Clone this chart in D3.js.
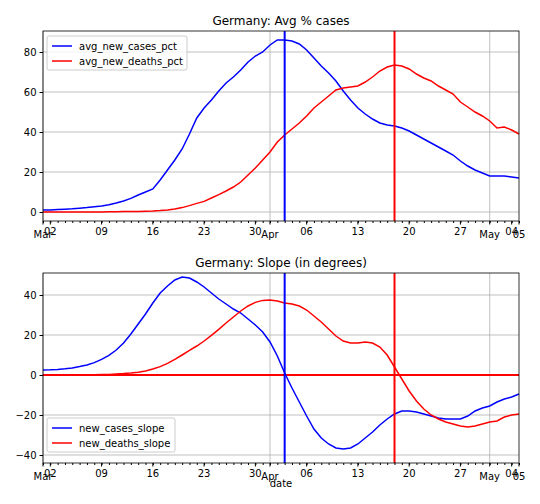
<!DOCTYPE html>
<html>
<head>
<meta charset="utf-8">
<style>
  body { margin: 0; background: #fff; }
  text { font-family: "DejaVu Sans", sans-serif; }
</style>
</head>
<body>
<script src="https://d3js.org/d3.v7.min.js"></script>
<script>
// daily values, Mar 1 .. May 5 2020
const startDate = new Date(2020, 2, 1);
const endDate = new Date(2020, 4, 5);
const avgNewCasesPct = [
  1,1,1.2,1.4,1.6,1.9,2.2,2.6,3,3.6,4.5,5.5,6.8,8.5,10,11.5,16,21,26,31.5,39,47,52,56,60.5,64.5,67.5,71,75,78,80,
  83.5,86,86,85.5,84,81,77,73,69.5,65.5,60.5,56,52,49,46.5,44.5,43.5,43,42,40.5,38.5,36.5,34.5,32.5,30.5,28.5,25.5,23,21,19.5,
  18,18,18,17.5,17];
const avgNewDeathsPct = [
  0,0,0,0,0,0,0,0,0,0.1,0.1,0.2,0.2,0.3,0.4,0.5,0.7,1,1.5,2.2,3.2,4.3,5.3,7,8.7,10.5,12.5,15,18.5,22,26,
  30,35,38.5,41.5,44.5,48,52,55,58,61,62,62.5,63,65,67.5,70.5,72.5,73.5,73,71.5,69,67,65.5,63,61,59,55,52.5,50,48,
  45.5,42,42.5,41,39];
const newCasesSlope = [
  2.5,2.6,2.8,3.1,3.5,4.2,5,6.2,7.8,9.8,12.5,16,20.5,25.5,30.5,36,41,44.5,47.5,49,48.5,46.5,44,41,38,35.5,33,31,28,25,21.5,
  16.5,9.5,1,-6.5,-13.5,-20.5,-27,-31.5,-34.5,-36.5,-37,-36.5,-34.5,-31.5,-28.5,-25,-22,-19.5,-18,-18,-18.5,-19.5,-20.5,-21.5,-22,-22,-22,-20.5,-18,-16.5,
  -15.5,-13.5,-12,-11,-9.5];
const newDeathsSlope = [
  0,0,0,0,0,0,0,0.1,0.2,0.3,0.5,0.7,1,1.4,2,3,4.2,5.8,7.8,10,12.3,14.5,17,19.8,22.8,26,29,32,34.5,36.3,37.3,
  37.5,37,36,35.5,34.5,32.5,29.5,26.5,23,19.5,17,16,16,16.5,16,14,10,4,-2,-8,-13,-17,-20,-22,-23.5,-24.5,-25.5,-26,-25.5,-24.5,
  -23.5,-23,-21,-20,-19.5];
const casesPeak = new Date(2020, 3, 3);
const deathsPeak = new Date(2020, 3, 18);
const yTicksTop = [0, 20, 40, 60, 80];
const yTicksBottom = [-40, -20, 0, 20, 40];

const dates = avgNewCasesPct.map((d, i) => d3.timeDay.offset(startDate, i));

const svg = d3.select("body").append("svg").attr("width", 540).attr("height", 504);
const x = d3.scaleTime().domain([startDate, endDate]).range([43, 519]);

function panel(top, bottom, yDomain, yTicks, title, series, legendY, zeroLine) {
  const y = d3.scaleLinear().domain(yDomain).range([bottom, top]);
  const g = svg.append("g");
  // grid
  g.selectAll(".hg").data(yTicks).join("line")
    .attr("x1", 43).attr("x2", 519).attr("y1", d => y(d)).attr("y2", d => y(d))
    .attr("stroke", "#b0b0b0").attr("stroke-width", 0.8);
  const months = [new Date(2020, 2, 1), new Date(2020, 3, 1), new Date(2020, 4, 1)];
  g.selectAll(".vg").data(months).join("line")
    .attr("x1", d => x(d)).attr("x2", d => x(d)).attr("y1", top).attr("y2", bottom)
    .attr("stroke", "#b0b0b0").attr("stroke-width", 0.8);
  if (zeroLine) {
    g.append("line").attr("x1", 43).attr("x2", 519).attr("y1", y(0)).attr("y2", y(0))
      .attr("stroke", "red").attr("stroke-width", 2);
  }
  const line = d3.line().x((d, i) => x(dates[i])).y(d => y(d));
  series.forEach(s => {
    g.append("path").datum(s.values).attr("d", line)
      .attr("fill", "none").attr("stroke", s.color).attr("stroke-width", 1.5);
  });
  [[casesPeak, "blue"], [deathsPeak, "red"]].forEach(([d, c]) => {
    g.append("line").attr("x1", x(d)).attr("x2", x(d)).attr("y1", top).attr("y2", bottom)
      .attr("stroke", c).attr("stroke-width", 2);
  });
  // frame
  g.append("rect").attr("x", 43).attr("y", top).attr("width", 476).attr("height", bottom - top)
    .attr("fill", "none").attr("stroke", "#000").attr("stroke-width", 0.8);
  // y axis
  g.append("g").attr("transform", "translate(43,0)")
    .call(d3.axisLeft(y).tickValues(yTicks).tickSize(3.5).tickFormat(d => d3.format("d")(d).replace("-", "\u2212")))
    .call(a => a.select(".domain").remove())
    .call(a => a.selectAll("text").attr("font-size", 10).attr("fill", "#000"));
  // x axis: daily minor ticks, Monday labels
  g.append("g").attr("transform", `translate(0,${bottom})`)
    .call(d3.axisBottom(x).ticks(d3.timeDay).tickSize(2).tickFormat(""))
    .call(a => a.select(".domain").remove());
  const xa = g.append("g").attr("transform", `translate(0,${bottom})`);
  const mondays = d3.timeMonday.range(startDate, d3.timeDay.offset(endDate, 1));
  xa.selectAll(".mt").data(mondays).join("line")
    .attr("x1", d => x(d)).attr("x2", d => x(d)).attr("y1", 0).attr("y2", 3.5).attr("stroke", "#000");
  xa.selectAll(".ml").data(mondays).join("text")
    .attr("x", d => x(d)).attr("y", 14).attr("text-anchor", "middle").attr("font-size", 10)
    .attr("fill", "#000").text(d3.timeFormat("%d"));
  const majors = months.concat([endDate]);
  xa.selectAll(".Mt").data(majors).join("line")
    .attr("x1", d => x(d)).attr("x2", d => x(d)).attr("y1", 0).attr("y2", 3.5).attr("stroke", "#000");
  xa.selectAll(".Ml").data(majors).join("text")
    .attr("x", d => x(d)).attr("y", 17).attr("text-anchor", "middle").attr("font-size", 10)
    .attr("fill", "#000")
    .text(d => d === endDate ? "05" : d3.timeFormat("%b")(d));
  // title
  svg.append("text").attr("x", 281).attr("y", top - 6).attr("text-anchor", "middle")
    .attr("font-size", 12).text(title);
  // legend
  const lw = series[0].name.length > 16 ? 140 : 128;
  const lg = svg.append("g").attr("transform", `translate(47,${legendY})`);
  lg.append("rect").attr("width", lw).attr("height", 34).attr("rx", 2)
    .attr("fill", "#fff").attr("fill-opacity", 0.8).attr("stroke", "#ccc");
  series.forEach((s, i) => {
    const yy = 10 + i * 15;
    lg.append("line").attr("x1", 5).attr("x2", 25).attr("y1", yy).attr("y2", yy)
      .attr("stroke", s.color).attr("stroke-width", 1.5);
    lg.append("text").attr("x", 32).attr("y", yy + 3.5).attr("font-size", 10).text(s.name);
  });
}

panel(31, 221, [-4.5, 90.5], yTicksTop, "Germany: Avg % cases",
  [{name: "avg_new_cases_pct", values: avgNewCasesPct, color: "blue"},
   {name: "avg_new_deaths_pct", values: avgNewDeathsPct, color: "red"}], 36, false);
panel(273, 463, [-44, 51], yTicksBottom, "Germany: Slope (in degrees)",
  [{name: "new_cases_slope", values: newCasesSlope, color: "blue"},
   {name: "new_deaths_slope", values: newDeathsSlope, color: "red"}], 418, true);

svg.append("text").attr("x", 281).attr("y", 487).attr("text-anchor", "middle")
  .attr("font-size", 10).text("date");
</script>
</body>
</html>
